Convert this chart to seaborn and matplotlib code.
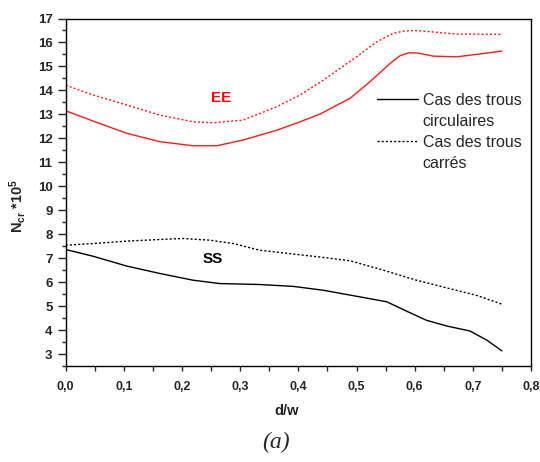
import matplotlib
matplotlib.use("Agg")
import matplotlib.pyplot as plt
from matplotlib.lines import Line2D
from matplotlib.ticker import MultipleLocator, FuncFormatter
import numpy as np
import pandas as pd
import seaborn as sns

# Critical buckling load N_cr (x1e5) versus hole ratio d/w
# EE boundary conditions
dw_ee_circ = [0.0, 0.047, 0.105, 0.162, 0.219, 0.26, 0.305, 0.363, 0.403, 0.437,
              0.489, 0.523, 0.558, 0.575, 0.59, 0.605, 0.632, 0.672, 0.712, 0.75]
n_ee_circ = [13.15, 12.72, 12.21, 11.86, 11.69, 11.69, 11.93, 12.34, 12.69, 13.01,
             13.67, 14.36, 15.13, 15.45, 15.57, 15.56, 15.43, 15.40, 15.52, 15.64]

dw_ee_carre = [0.0, 0.047, 0.105, 0.162, 0.219, 0.254, 0.305, 0.363, 0.403, 0.443,
               0.5, 0.535, 0.563, 0.58, 0.6, 0.626, 0.672, 0.75]
n_ee_carre = [14.22, 13.81, 13.39, 12.97, 12.69, 12.65, 12.76, 13.32, 13.81, 14.43,
              15.40, 16.03, 16.38, 16.47, 16.50, 16.45, 16.35, 16.34]

# SS boundary conditions
dw_ss_circ = [0.0, 0.047, 0.105, 0.162, 0.219, 0.265, 0.334, 0.392, 0.443, 0.5,
              0.552, 0.586, 0.62, 0.655, 0.695, 0.724, 0.75]
n_ss_circ = [7.36, 7.08, 6.67, 6.36, 6.08, 5.94, 5.90, 5.82, 5.66, 5.41,
             5.18, 4.79, 4.41, 4.17, 3.96, 3.58, 3.13]

dw_ss_carre = [0.0, 0.047, 0.105, 0.162, 0.202, 0.248, 0.288, 0.334, 0.392, 0.443,
               0.489, 0.546, 0.603, 0.66, 0.706, 0.75]
n_ss_carre = [7.54, 7.61, 7.71, 7.78, 7.82, 7.75, 7.61, 7.33, 7.17, 7.03,
              6.89, 6.50, 6.08, 5.73, 5.45, 5.08]

frames = []
for cond, case, x, y in [("EE", "circ", dw_ee_circ, n_ee_circ),
                         ("EE", "carre", dw_ee_carre, n_ee_carre),
                         ("SS", "circ", dw_ss_circ, n_ss_circ),
                         ("SS", "carre", dw_ss_carre, n_ss_carre)]:
    frames.append(pd.DataFrame({"dw": x, "N": y, "cond": cond,
                                "case": case, "serie": cond + case}))
df = pd.concat(frames, ignore_index=True)

sns.set_style("ticks")
plt.rcParams["font.family"] = ["Liberation Sans", "DejaVu Sans"]
plt.rcParams["mathtext.fontset"] = "custom"
plt.rcParams["mathtext.rm"] = "Liberation Sans:bold"
plt.rcParams["mathtext.bf"] = "Liberation Sans:bold"
plt.rcParams["mathtext.it"] = "Liberation Sans:bold"
plt.rcParams["mathtext.default"] = "rm"

fig = plt.figure(figsize=(5.4, 4.62), dpi=100)
ax = fig.add_axes([65.7 / 540, 1 - 366 / 462, (531 - 65.7) / 540, (366 - 18.5) / 462])

sns.lineplot(data=df, x="dw", y="N", hue="cond", style="case", units="serie",
             estimator=None, palette={"EE": "#ff1a1a", "SS": "black"},
             dashes={"circ": "", "carre": (1.5, 1.5)}, linewidth=1.0,
             legend=False, ax=ax, sort=True)

ax.set_xlim(0, 0.8)
ax.set_ylim(2.5, 17)
ax.xaxis.set_major_locator(MultipleLocator(0.1))
ax.xaxis.set_minor_locator(MultipleLocator(0.05))
ax.yaxis.set_major_locator(MultipleLocator(1))
ax.yaxis.set_minor_locator(MultipleLocator(0.5))
ax.xaxis.set_major_formatter(FuncFormatter(lambda v, p: f"{v:.1f}".replace(".", ",")))
ax.yaxis.set_major_formatter(FuncFormatter(lambda v, p: f"{v:.0f}" if v >= 3 else ""))

ax.tick_params(axis="x", which="both", direction="out", length=3.5, width=1,
               pad=7, labelsize=9)
ax.tick_params(axis="y", which="major", direction="out", length=6, width=1,
               pad=3.5, labelsize=9.5)
ax.tick_params(axis="y", which="minor", direction="out", length=3, width=1)
for lab in ax.get_xticklabels() + ax.get_yticklabels():
    lab.set_fontweight("bold")

for side in ["left", "right", "top", "bottom"]:
    ax.spines[side].set_visible(True)
    ax.spines[side].set_linewidth(1.0)
    ax.spines[side].set_color("black")

ax.set_xlabel("")
ax.set_ylabel("")

ax.text(0.268, 13.70, "EE", color="#ff0000", fontsize=11, fontweight="bold",
        ha="center", va="center")
ax.text(0.253, 6.97, "SS", color="black", fontsize=11, fontweight="bold",
        ha="center", va="center")

handles = [Line2D([], [], color="black", lw=1.0),
           Line2D([], [], color="none"),
           Line2D([], [], color="black", lw=1.0, linestyle=(0, (1.5, 1.5))),
           Line2D([], [], color="none")]
labels = ["Cas des trous", "circulaires", "Cas des trous", "carrés"]
fig.legend(handles, labels, loc="upper left",
           bbox_to_anchor=(377 / 540, 1 - 93 / 462), frameon=False,
           fontsize=11.5, handlelength=2.55, handletextpad=0.3,
           borderpad=0, borderaxespad=0, labelspacing=0.37)

fig.text(18 / 540, 1 - 206 / 462, r"N$_{cr}$ *10$^{5}$", rotation=90,
         fontsize=10.5, fontweight="bold", ha="center", va="center")
fig.text(287 / 540, 1 - 411 / 462, "d/w", fontsize=10.5, fontweight="bold",
         ha="center", va="center")
fig.text(276 / 540, 1 - 442 / 462, "(a)", fontsize=17, style="italic",
         family="Liberation Serif", ha="center", va="center")

fig.savefig("out.png", dpi=100)
